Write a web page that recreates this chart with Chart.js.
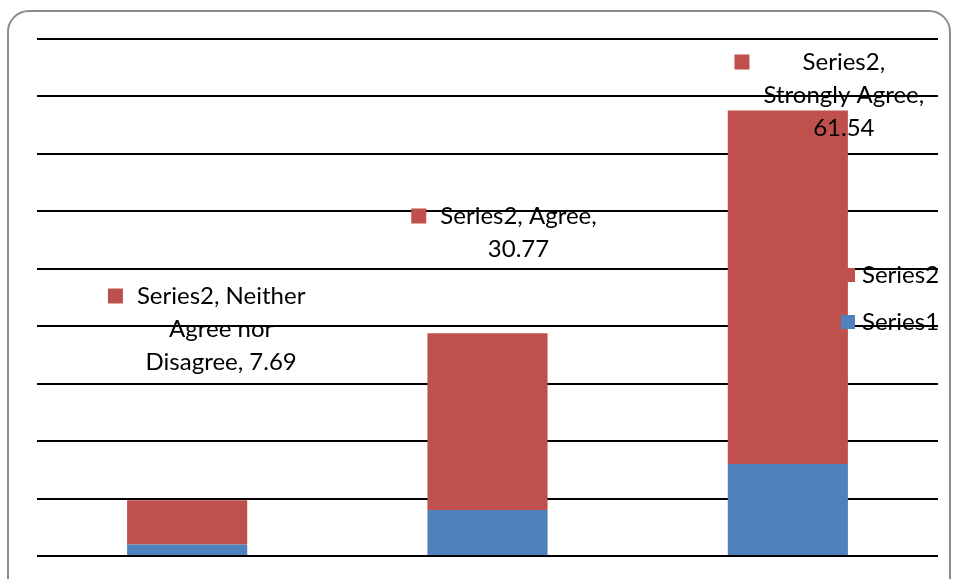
<!DOCTYPE html>
<html lang="en">
<head>
  <meta charset="UTF-8" />
  <title>Series chart</title>
  <script src="https://cdn.jsdelivr.net/npm/chart.js"></script>
  <style>
    body { margin: 0; background: #fff; }
    .frame { position: relative; width: 953px; height: 579px; overflow: hidden; }
    .moldura { position: absolute; left: 7px; top: 10px; width: 940px; height: 620px;
               border: 2px solid #8c8c8c; border-radius: 22px; }
    canvas { position: absolute; left: 0; top: 0; }
  </style>
</head>
<body>
  <div class="frame">
    <div class="moldura"></div>
    <canvas id="grafico" width="953" height="579"></canvas>
  </div>

  <script>
    // dados
    const categorias = ['Neither Agree nor Disagree', 'Agree', 'Strongly Agree'];
    const series1 = [2, 8, 16];
    const series2 = [7.69, 30.77, 61.54];
    const yMax = 90;
    const yPasso = 10;

    const azul = '#4F81BD';
    const vermelho = '#C0504D';
    const fonte = '24px Lato';

    // quantas palavras em cada linha do rótulo (quebra igual à do Excel)
    const quebras = [[2, 2, 2], [2, 1], [1, 2, 1]];

    function quebrar(texto, contagem) {
      const palavras = texto.split(' ');
      const linhas = [];
      let pos = 0;
      contagem.forEach(n => {
        linhas.push(palavras.slice(pos, pos + n).join(' '));
        pos += n;
      });
      return linhas;
    }

    // rótulos de dados da Series2
    const desloc = [[34, 257], [31, 177], [56, 23]];
    const rotulos = {
      id: 'rotulos',
      afterDatasetsDraw(chart) {
        const ctx = chart.ctx;
        const area = chart.chartArea;
        const meta = chart.getDatasetMeta(1);
        ctx.save();
        ctx.font = fonte;
        ctx.textAlign = 'center';
        ctx.textBaseline = 'middle';
        meta.data.forEach((barra, i) => {
          const texto = 'Series2, ' + categorias[i] + ', ' + series2[i];
          const linhas = quebrar(texto, quebras[i]);
          const cx = barra.x + desloc[i][0];
          const cy = area.top + desloc[i][1];
          const maior = Math.max(...linhas.map(l => ctx.measureText(l).width));
          ctx.fillStyle = vermelho;
          ctx.fillRect(cx - maior / 2 - 29, cy - 7.5, 15, 15);
          ctx.fillStyle = '#000';
          linhas.forEach((l, k) => ctx.fillText(l, cx, cy + k * 33));
        });
        ctx.restore();
      }
    };

    // legenda à direita, por cima da área do gráfico
    const legenda = {
      id: 'legenda',
      afterDraw(chart) {
        const ctx = chart.ctx;
        const area = chart.chartArea;
        const itens = [chart.data.datasets[1], chart.data.datasets[0]];
        ctx.save();
        ctx.font = fonte;
        ctx.textBaseline = 'middle';
        itens.forEach((ds, k) => {
          const y = area.top + 236 + k * 47;
          ctx.fillStyle = ds.backgroundColor;
          ctx.fillRect(area.right - 97, y - 7, 14, 14);
          ctx.fillStyle = '#000';
          ctx.fillText(ds.label, area.right - 76, y);
        });
        ctx.restore();
      }
    };

    new Chart(document.getElementById('grafico'), {
      type: 'bar',
      data: {
        labels: categorias,
        datasets: [
          { label: 'Series1', data: series1, backgroundColor: azul },
          { label: 'Series2', data: series2, backgroundColor: vermelho }
        ]
      },
      options: {
        responsive: false,
        animation: false,
        layout: { padding: { left: 37, right: 15, top: 39, bottom: 23 } },
        categoryPercentage: 1,
        barPercentage: 0.4,
        plugins: {
          legend: { display: false },
          tooltip: { enabled: false }
        },
        scales: {
          x: { stacked: true, display: false },
          y: {
            stacked: true,
            min: 0,
            max: yMax,
            ticks: { display: false, stepSize: yPasso },
            grid: { color: '#000', lineWidth: 2, drawTicks: false },
            border: { display: false }
          }
        }
      },
      plugins: [rotulos, legenda]
    });
  </script>
</body>
</html>
